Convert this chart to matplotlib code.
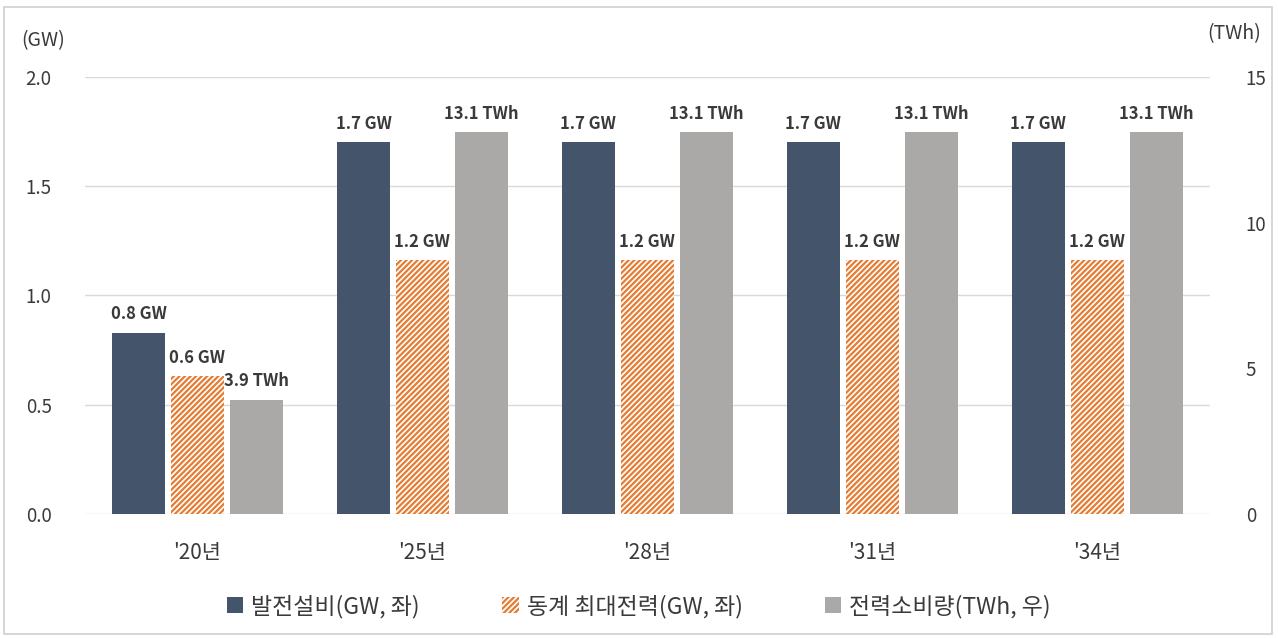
import numpy as np
import matplotlib.pyplot as plt
from matplotlib.patches import Rectangle, Patch

plt.rcParams['font.family'] = ['Noto Sans CJK KR', 'DejaVu Sans']
plt.rcParams['hatch.linewidth'] = 1.6

# data
years = ["'20년", "'25년", "'28년", "'31년", "'34년"]
capacity_gw = [0.83, 1.70, 1.70, 1.70, 1.70]
peak_gw = [0.63, 1.16, 1.16, 1.16, 1.16]
consumption_twh = [3.92, 13.1, 13.1, 13.1, 13.1]

navy = '#44546A'
orange = '#E47C34'
grey = '#ABA8A8'
text_col = '#3A3A3A'

fig = plt.figure(figsize=(12.78, 6.38), dpi=100)
ax = fig.add_axes([0.0665, 0.1944, 0.880, 0.685])
ax2 = ax.twinx()

x = np.arange(len(years))
w = 0.236
step = 0.262

ax.bar(x - step, capacity_gw, w, color=navy, zorder=3)
ax.bar(x, peak_gw, w, facecolor='white', edgecolor=orange, hatch='//////',
       linewidth=0, zorder=3)
ax2.bar(x + step, consumption_twh, w, color=grey, zorder=3)

ax.set_ylim(0, 2.0)
ax2.set_ylim(0, 15)
ax.set_xlim(-0.5, len(years) - 0.5)
ax.set_yticks(np.arange(0, 2.01, 0.5))
ax.set_yticklabels([f'{v:.1f}' for v in np.arange(0, 2.01, 0.5)])
ax2.set_yticks([0, 5, 10, 15])
ax.grid(axis='y', color='#D9D9D9', linewidth=1, zorder=0)
ax.set_axisbelow(True)

for a in (ax, ax2):
    for s in a.spines.values():
        s.set_visible(False)
    a.tick_params(length=0, labelsize=13.5, colors=text_col)
ax.tick_params(axis='y', pad=24)
ax2.tick_params(axis='y', pad=26)
ax.set_xticks(x)
ax.set_xticklabels(years, fontsize=15)
ax.tick_params(axis='x', pad=20)

lab_kw = dict(ha='center', va='bottom', fontsize=12, fontweight='bold', color=text_col)
for i in range(len(years)):
    ax.annotate(f'{capacity_gw[i]:.1f} GW', (x[i] - step, capacity_gw[i]),
                xytext=(0, 7), textcoords='offset points', **lab_kw)
    ax.annotate(f'{peak_gw[i]:.1f} GW', (x[i], peak_gw[i]),
                xytext=(0, 7), textcoords='offset points', **lab_kw)
    ax2.annotate(f'{consumption_twh[i]:.1f} TWh', (x[i] + step, consumption_twh[i]),
                 xytext=(0, 7), textcoords='offset points', **lab_kw)

fig.text(0.017, 0.937, '(GW)', fontsize=14, color=text_col, ha='left', va='center')
fig.text(0.987, 0.948, '(TWh)', fontsize=14, color=text_col, ha='right', va='center')

handles = [Patch(facecolor=navy),
           Patch(facecolor='white', edgecolor=orange, hatch='//////', linewidth=0),
           Patch(facecolor=grey)]
labels = ['발전설비(GW, 좌)', '동계 최대전력(GW, 좌)', '전력소비량(TWh, 우)']
fig.legend(handles, labels, loc='center', bbox_to_anchor=(0.5, 0.050), ncol=3,
           frameon=False, fontsize=16.5, handlelength=0.7, handleheight=0.7,
           handletextpad=0.35, columnspacing=3.6, labelcolor=text_col)

# thin frame round the whole figure
fig.patches.append(Rectangle((0.003, 0.006), 0.992, 0.983, transform=fig.transFigure,
                             fill=False, edgecolor='#D0D0D0', linewidth=1.2))

fig.savefig('out.png', dpi=100)
